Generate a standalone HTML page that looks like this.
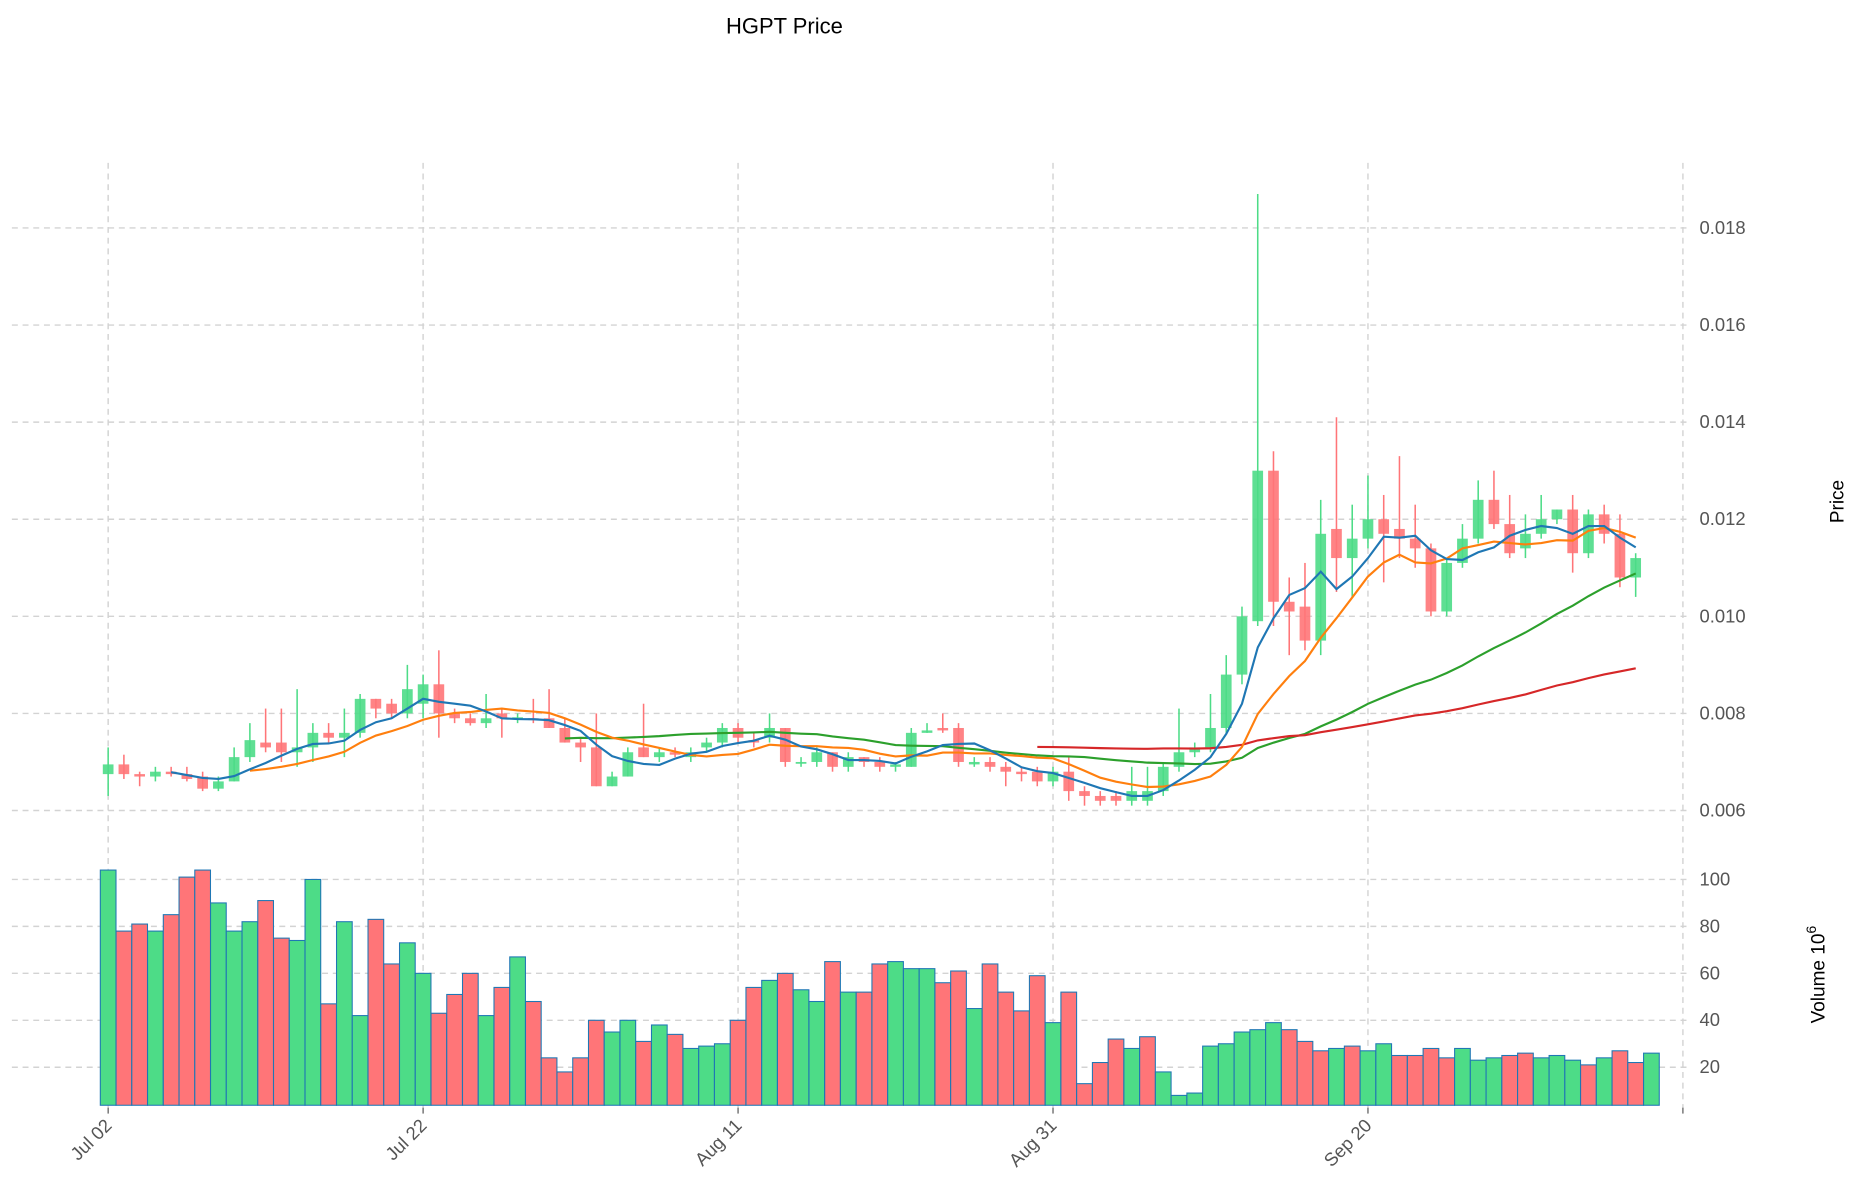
<!DOCTYPE html>
<html><head><meta charset="utf-8"><style>
html,body{margin:0;padding:0;background:#fff;}
svg{display:block;}
text{font-family:"Liberation Sans","DejaVu Sans",sans-serif;}
</style></head><body>
<svg id="s" width="1860" height="1202" viewBox="0 0 1565 1011.4" preserveAspectRatio="none" xmlns="http://www.w3.org/2000/svg">
<rect width="1565" height="1012" fill="#fff"/>
<g id="grid"></g>
<g id="vol"></g>
<g id="cand"></g>
<g id="ma"></g>
<g id="lab" fill="#555" font-size="15.5"></g>
<text x="660" y="28" font-size="18.5" text-anchor="middle" fill="#000">HGPT Price</text>
<text transform="translate(1551,422) rotate(-90)" font-size="16" text-anchor="middle" fill="#000">Price</text>
<text transform="translate(1535,820) rotate(-90)" font-size="16" text-anchor="middle" fill="#000">Volume  10<tspan dy="-7" font-size="12">6</tspan></text>
</svg>
<script>
const NS="http://www.w3.org/2000/svg";
function el(p,t,a,tx){const e=document.createElementNS(NS,t);for(const k in a)e.setAttribute(k,a[k]);if(tx!==undefined)e.textContent=tx;document.getElementById(p).appendChild(e);return e;}
const py=p=>682-(p-0.006)*40850;
const vy=v=>937.5-v*1.975;
const X=i=>91+i*13.25;
[0.006,0.008,0.010,0.012,0.014,0.016,0.018].forEach(p=>{el('grid','line',{x1:10,x2:1420,y1:py(p),y2:py(p),stroke:'#d3d3d3','stroke-dasharray':'5,4','stroke-width':1.2});el('lab','text',{x:1430,y:py(p)+5},p.toFixed(3));});
[20,40,60,80,100].forEach(v=>{el('grid','line',{x1:10,x2:1420,y1:vy(v),y2:vy(v),stroke:'#d3d3d3','stroke-dasharray':'5,4','stroke-width':1.2});el('lab','text',{x:1430,y:vy(v)+5},v);});
[[91,'Jul 02'],[356,'Jul 22'],[621,'Aug 11'],[886,'Aug 31'],[1151,'Sep 20'],[1416,'']].forEach(([x,t])=>{el('grid','line',{x1:x,x2:x,y1:137,y2:932,stroke:'#d3d3d3','stroke-dasharray':'5,4','stroke-width':1.2});
el('grid','line',{x1:x,x2:x,y1:932,y2:937,stroke:'#555','stroke-width':1});
if(t)el('lab','text',{transform:`translate(${x+4},${948}) rotate(-45)`,'text-anchor':'end'},t);});
const C=[[.00675,.00695,.0073,.0063],[.00695,.00675,.00715,.00665],[.00675,.0067,.0068,.0065],[.0067,.0068,.0069,.0066],[.0068,.00675,.0069,.0067],[.00675,.00665,.0069,.0066],[.0067,.00645,.0068,.0064],[.00645,.0066,.0067,.0064],[.0066,.0071,.0073,.0066],[.0071,.00745,.0078,.0070],
[.0074,.0073,.0081,.0072],[.0074,.0072,.0081,.0070],[.0072,.0073,.0085,.0069],[.0073,.0076,.0078,.0070],[.0076,.0075,.0078,.0074],[.0075,.0076,.0081,.0071],[.0076,.0083,.0084,.0075],[.0083,.0081,.0083,.0079],[.0082,.0080,.0083,.0079],[.0080,.0085,.0090,.0079],
[.0082,.0086,.0088,.0079],[.0086,.0080,.0093,.0075],[.0080,.0079,.0081,.0078],[.0079,.0078,.0080,.00775],[.0078,.0079,.0084,.0077],[.0080,.0079,.0081,.0075],[.0079,.00792,.0080,.0078],[.0079,.00788,.0083,.0078],[.0079,.0077,.0085,.0077],[.0077,.0074,.0079,.0074],
[.0074,.0073,.0075,.0070],[.0073,.0065,.0080,.0065],[.0065,.0067,.0068,.0065],[.0067,.0072,.0073,.0067],[.0073,.0071,.0082,.0071],[.0071,.0072,.0073,.0070],[.0072,.00715,.0073,.0071],[.0071,.0072,.0073,.0070],[.0073,.0074,.0075,.0072],[.0074,.0077,.0078,.0073],
[.0077,.0075,.0078,.0074],[.00745,.0074,.0076,.0073],[.0075,.0077,.0080,.0074],[.0077,.0070,.0077,.0069],[.00698,.0070,.0071,.0069],[.0070,.0072,.0073,.0069],[.0072,.0069,.0072,.0068],[.0069,.0071,.0072,.0068],[.0071,.0070,.0071,.0069],[.0070,.0069,.0071,.0068],
[.0069,.00695,.0070,.0068],[.0069,.0076,.0077,.0069],[.0076,.00765,.0078,.0076],[.0077,.00765,.0080,.0076],[.0077,.0070,.0078,.0069],[.00695,.0070,.0071,.0069],[.0070,.0069,.0071,.0068],[.0069,.0068,.0070,.0065],[.0068,.00675,.0069,.0066],[.0068,.0066,.0069,.0065],
[.0066,.0068,.0069,.0065],[.0068,.0064,.0071,.0062],[.0064,.0063,.0065,.0061],[.0063,.0062,.0064,.0061],[.0063,.0062,.0064,.0061],[.0062,.0064,.0069,.0061],[.0062,.0064,.0069,.0061],[.0064,.0069,.0070,.0063],[.0069,.0072,.0081,.0068],[.0072,.0073,.0074,.0071],
[.0073,.0077,.0084,.0072],[.0077,.0088,.0092,.0076],[.0088,.0100,.0102,.0086],[.0099,.0130,.0187,.0098],[.0130,.0103,.0134,.0098],[.0103,.0101,.0108,.0092],[.0102,.0095,.0111,.0093],[.0095,.0117,.0124,.0092],[.0118,.0112,.0141,.0105],[.0112,.0116,.0123,.0104],
[.0116,.0120,.0129,.0114],[.0120,.0117,.0125,.0107],[.0118,.0116,.0133,.0112],[.0116,.0114,.0123,.0110],[.0114,.0101,.0115,.0100],[.0101,.0111,.0112,.0100],[.0111,.0116,.0119,.0110],[.0116,.0124,.0128,.0115],[.0124,.0119,.0130,.0118],[.0119,.0113,.0125,.0112],
[.0114,.0117,.0121,.0112],[.0117,.0120,.0125,.0116],[.0120,.0122,.0122,.0119],[.0122,.0113,.0125,.0109],[.0113,.0121,.0122,.0112],[.0121,.0117,.0123,.0115],[.0117,.0108,.0121,.0106],[.0108,.0112,.0113,.0104]];
const V=[[104,1],[78,0],[81,0],[78,1],[85,0],[101,0],[104,0],[90,1],[78,1],[82,1],[91,0],[75,0],[74,1],[100,1],[47,0],[82,1],[42,1],[83,0],[64,0],[73,1],[60,1],[43,0],[51,0],[60,0],[42,1],[54,0],[67,1],[48,0],[24,0],[18,0],[24,0],[40,0],[35,1],[40,1],[31,0],[38,1],[34,0],[28,1],[29,1],[30,1],[40,0],[54,0],[57,1],[60,0],[53,1],[48,1],[65,0],[52,1],[52,0],[64,0],[65,1],[62,1],[62,1],[56,0],[61,0],[45,1],[64,0],[52,0],[44,0],[59,0],[39,1],[52,0],[13,0],[22,0],[32,0],[28,1],[33,0],[18,1],[8,1],[9,1],[29,1],[30,1],[35,1],[36,1],[39,1],[36,0],[31,0],[27,0],[28,1],[29,0],[27,1],[30,1],[25,0],[25,0],[28,0],[24,0],[28,1],[23,1],[24,1],[25,0],[26,0],[24,1],[25,1],[23,1],[21,0],[24,1],[27,0],[22,0],[26,1]];
const G='#4ddc87',R='#ff7578';
V.forEach(([v,g],i)=>{const x=X(i);el('vol','rect',{x:x-6.6,y:vy(v),width:13.2,height:930-vy(v),fill:g?G:R,stroke:'#1f77b4','stroke-width':0.9});});
C.forEach(([o,c,h,l],i)=>{const x=X(i),col=c>=o?G:R;const t=py(Math.max(o,c)),b=py(Math.min(o,c));
el('cand','line',{x1:x,x2:x,y1:py(h),y2:py(l),stroke:col,'stroke-width':1.3});
el('cand','rect',{x:x-4.5,y:t,width:9,height:Math.max(b-t,1.5),fill:col,'fill-opacity':0.9});});
function ma(n,col){let pts=[];for(let i=n-1;i<C.length;i++){let s=0;for(let j=i-n+1;j<=i;j++)s+=C[j][1];pts.push(X(i).toFixed(1)+','+py(s/n).toFixed(1));}
el('ma','polyline',{points:pts.join(' '),fill:'none',stroke:col,'stroke-width':1.8});}
ma(30,'#2ca02c');ma(60,'#d62728');ma(10,'#ff7f0e');ma(5,'#1f77b4');
</script>
</body></html>
